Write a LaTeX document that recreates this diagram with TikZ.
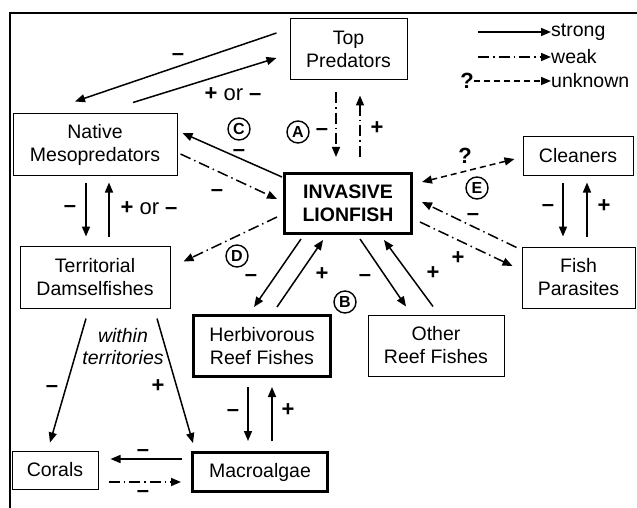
\documentclass[tikz,border=0pt]{standalone}
\usepackage{fontspec}
\setmainfont{Liberation Sans}
\usetikzlibrary{arrows.meta}

\tikzset{
    box/.style={draw, line width=1pt, align=center, inner sep=0pt, font=\fontsize{19.5}{23}\selectfont},
    thickbox/.style={box, line width=3pt},
    strong/.style={line width=1.5pt, -{Triangle[length=10pt,width=8pt]}},
    weak/.style={strong, dash pattern=on 11pt off 4pt on 1.5pt off 4pt},
    unknown/.style={strong, dash pattern=on 6pt off 4pt},
    sign/.style={inner sep=0pt, font=\fontsize{22}{23}\selectfont\bfseries},
    legend/.style={inner sep=0pt, font=\fontsize{19.5}{23}\selectfont},
    circ/.style={draw, circle, line width=1.4pt, inner sep=0pt, minimum size=22pt, font=\fontsize{16}{16}\selectfont\bfseries}
}

\begin{document}
\begin{tikzpicture}[x=1pt, y=-1pt]
    \useasboundingbox (0,0) rectangle (637,508);
    \draw[line width=1.8pt] (10,508) -- (10,13) -- (637,13);

    % boxes
    \node[box, minimum width=117pt, minimum height=61pt] (top)       at (348.5,49.5) {Top\\Predators};
    \node[box, minimum width=164pt, minimum height=61pt] (native)    at (95,144.5)   {Native\\Mesopredators};
    \node[thickbox, minimum width=127pt, minimum height=60pt, font=\fontsize{19.5}{23}\selectfont\bfseries] (lion) at (348,203.5) {INVASIVE\\LIONFISH};
    \node[box, minimum width=110pt, minimum height=38pt] (cleaners)  at (578,156)    {Cleaners};
    \node[box, minimum width=113pt, minimum height=61pt] (parasites) at (578.5,277.5){Fish\\Parasites};
    \node[box, minimum width=150pt, minimum height=62pt] (damsel)    at (95,277)     {Territorial\\Damselfishes};
    \node[thickbox, minimum width=137pt, minimum height=61pt] (herb) at (262,346)    {Herbivorous\\Reef Fishes};
    \node[box, minimum width=136pt, minimum height=61pt] (other)     at (436,345.5)  {Other\\Reef Fishes};
    \node[box, minimum width=86pt, minimum height=38pt]  (corals)    at (55,470)     {Corals};
    \node[thickbox, minimum width=135pt, minimum height=39pt] (macro) at (260,472)   {Macroalgae};

    % legend
    \node[legend, anchor=west] (lstrong)  at (551,32) {strong};
    \node[legend, anchor=west] (lweak)    at (551,57) {weak};
    \node[legend, anchor=west] (lunknown) at (551,81) {unknown};
    \coordinate (s0) at (478,32);
    \coordinate (w0) at (478,57);
    \node[sign] (q0) at (467,81) {?};
    \draw[strong]  (s0) -- (lstrong.west);
    \draw[weak]    (w0) -- (lweak.west);
    \draw[unknown] (q0.east) -- (lunknown.west);

    % top predators and mesopredators
    \draw[strong] ([shift={(-13,-16.5)}]top.west) -- ([shift={(-20,-12)}]native.north);
    \draw[strong] ([shift={(38,-11)}]native.north) -- ([shift={(-13,8.5)}]top.west);
    \draw[weak] ([shift={(-12.5,12)}]top.south) -- ([shift={(-12,-15)}]lion.north);
    \draw[weak] ([shift={(12,-15)}]lion.north) -- ([shift={(11.5,15)}]top.south);
    \node[sign] at (178,57) {--};
    \node[sign] at (233,94) {+ \mdseries or \bfseries --};
    \node[circ] (A) at (298,132) {A};
    \node[sign] at (322,132) {--};
    \node[sign] at (377,128) {+};

    % lionfish and mesopredators
    \draw[strong] ([shift={(-1,5)}]lion.north west) -- ([shift={(5,-11.5)}]native.east);
    \draw[weak] ([shift={(3,9.5)}]native.east) -- ([shift={(-6,-4.5)}]lion.west);
    \draw[weak] ([shift={(-6,13.5)}]lion.west) -- ([shift={(13,16)}]damsel.north east);
    \node[circ] (C) at (239,129) {C};
    \node[sign] at (239,153) {--};
    \node[sign] at (217,193) {--};
    \node[circ] (D) at (237,256) {D};
    \node[sign] at (251,278) {--};

    % mesopredators and damselfishes
    \draw[strong] ([shift={(-9,7)}]native.south) -- ([shift={(-9,-9)}]damsel.north);
    \draw[strong] ([shift={(14,-9)}]damsel.north) -- ([shift={(14,7)}]native.south);
    \node[sign] at (70,209) {--};
    \node[sign] at (149,208) {+ \mdseries or \bfseries --};

    % lionfish and reef fishes
    \draw[strong] ([shift={(-47,4)}]lion.south) -- ([shift={(-8,-7)}]herb.north);
    \draw[strong] ([shift={(15,-7)}]herb.north) -- ([shift={(-25,5)}]lion.south);
    \draw[strong] ([shift={(12,4)}]lion.south) -- ([shift={(-30,-8)}]other.north);
    \draw[strong] ([shift={(-3,-8)}]other.north) -- ([shift={(36,5)}]lion.south);
    \node[sign] at (322,274) {+};
    \node[sign] at (365,278) {--};
    \node[sign] at (433,273) {+};
    \node[circ] (B) at (345,302) {B};

    % lionfish, cleaners and parasites
    \draw[weak] ([shift={(7,18.5)}]lion.east) -- ([shift={(-9,-11.5)}]parasites.west);
    \draw[weak] ([shift={(-5,1)}]parasites.north west) -- ([shift={(9,-1.5)}]lion.east);
    \draw[unknown, {Triangle[length=10pt,width=8pt]}-{Triangle[length=10pt,width=8pt]}] ([shift={(9,-21.5)}]lion.east) -- ([shift={(-8,3)}]cleaners.west);
    \draw[strong] ([shift={(-15,7)}]cleaners.south) -- ([shift={(-15.5,-10)}]parasites.north);
    \draw[strong] ([shift={(8.5,-10)}]parasites.north) -- ([shift={(9,7)}]cleaners.south);
    \node[sign] at (458,258) {+};
    \node[sign] at (473,217) {--};
    \node[sign] at (465,156) {?};
    \node[circ] (E) at (477,188) {E};
    \node[sign] at (548,208) {--};
    \node[sign] at (604,206) {+};

    % damselfishes, corals and macroalgae
    \draw[strong] ([shift={(-9,10)}]damsel.south) -- ([shift={(-5,-8)}]corals.north);
    \draw[strong] ([shift={(62,10)}]damsel.south) -- ([shift={(-67,-8)}]macro.north);
    \node[sign] at (52,389) {--};
    \node[sign] at (158,386) {+};
    \node[box, draw=none, align=center, font=\fontsize{19.5}{22}\selectfont\itshape] at (123,347) {within\\territories};

    \draw[strong] ([shift={(-14,9)}]herb.south) -- ([shift={(-12,-10)}]macro.north);
    \draw[strong] ([shift={(12,-10)}]macro.north) -- ([shift={(10,9)}]herb.south);
    \node[sign] at (233,413) {--};
    \node[sign] at (288,410) {+};

    \draw[strong] ([shift={(-9,-13)}]macro.west) -- ([shift={(12,-11)}]corals.east);
    \draw[weak] ([shift={(10,12)}]corals.east) -- ([shift={(-10,10)}]macro.west);
    \node[sign] at (143,453) {--};
    \node[sign] at (143,494) {--};
\end{tikzpicture}
\end{document}
